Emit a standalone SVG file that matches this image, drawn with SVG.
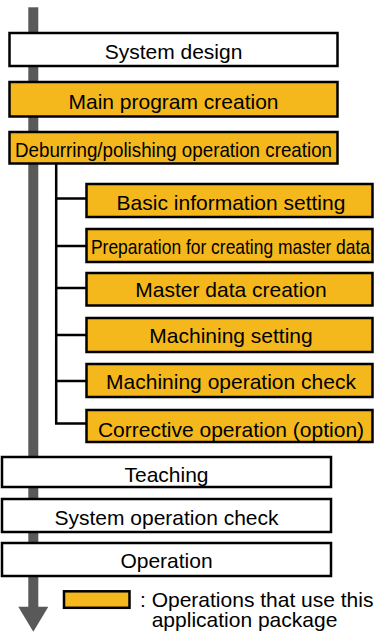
<svg xmlns="http://www.w3.org/2000/svg" width="374" height="637" viewBox="0 0 374 637">
<style>
.box{stroke:#000;stroke-width:2.5}
.w{fill:#fff}
.y{fill:#F4B81C}
text{font-family:"Liberation Sans",Arial,sans-serif;font-size:21px;fill:#000}
.c{text-anchor:middle}
.ln{stroke:#000;stroke-width:2.5;fill:none}
</style>
<rect width="374" height="637" fill="#fff"/>
<g id="flow-arrow">
<rect x="28.3" y="7.3" width="10" height="600" fill="#595959"/>
<polygon points="18.3,606.7 48.3,606.7 33.3,631.7" fill="#595959"/>
</g>
<g id="connectors">
<path class="ln" d="M56.2,164 V424 M55,198.5 H86 M55,246 H86 M55,288 H86 M55,335 H86 M55,381 H86 M55,423.5 H86"/>
</g>
<g id="system-design"><rect class="box w" x="9.5" y="33" width="328" height="33"/><text class="c" x="173.5" y="58.5">System design</text></g>
<g id="main-program"><rect class="box y" x="9.5" y="82" width="328" height="34.5"/><text class="c" x="173.5" y="108.5">Main program creation</text></g>
<g id="deburring"><rect class="box y" x="9.5" y="132" width="328" height="31.5"/><text class="c" x="173.5" y="157" textLength="317" lengthAdjust="spacingAndGlyphs">Deburring/polishing operation creation</text></g>
<g id="basic-info"><rect class="box y" x="86.5" y="184" width="286" height="33"/><text class="c" x="231" y="210">Basic information setting</text></g>
<g id="preparation"><rect class="box y" x="86.5" y="229" width="286" height="33"/><text class="c" x="230.5" y="253.5" textLength="279" lengthAdjust="spacingAndGlyphs">Preparation for creating master data</text></g>
<g id="master-data"><rect class="box y" x="86.5" y="273" width="286" height="32.5"/><text class="c" x="231" y="297">Master data creation</text></g>
<g id="machining-setting"><rect class="box y" x="86.5" y="318" width="286" height="34"/><text class="c" x="231" y="343">Machining setting</text></g>
<g id="machining-check"><rect class="box y" x="86.5" y="364" width="286" height="33"/><text class="c" x="231" y="389">Machining operation check</text></g>
<g id="corrective"><rect class="box y" x="86.5" y="410" width="286" height="32"/><text class="c" x="231" y="436.5">Corrective operation (option)</text></g>
<g id="teaching"><rect class="box w" x="2" y="457" width="329" height="30"/><text class="c" x="166.5" y="481.5">Teaching</text></g>
<g id="system-check"><rect class="box w" x="2" y="499" width="329" height="33"/><text class="c" x="166.5" y="524.5">System operation check</text></g>
<g id="operation"><rect class="box w" x="2" y="543" width="329" height="33"/><text class="c" x="166.5" y="568">Operation</text></g>
<g id="legend">
<rect class="box y" x="64" y="591.3" width="65.5" height="16.5"/>
<text x="140" y="607.3">: Operations that use this</text>
<text x="151.7" y="626.7">application package</text>
</g>
</svg>
